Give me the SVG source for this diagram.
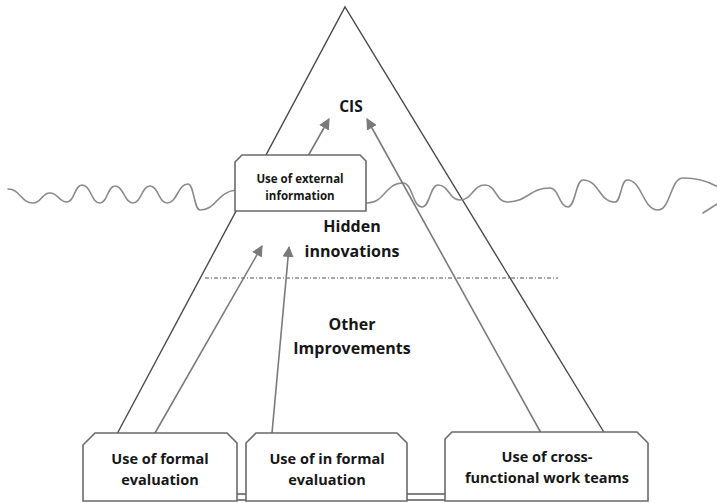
<svg xmlns="http://www.w3.org/2000/svg" width="717" height="503" viewBox="0 0 717 503">
  <style>
    .edge { fill: none; stroke: #4a4a4a; stroke-width: 1.4; }
    .arrow { fill: none; stroke: #7a7a7a; stroke-width: 1.6; marker-end: url(#head); }
    .wave { fill: none; stroke: #8a8a8a; stroke-width: 1.6; stroke-linecap: round; }
    .box { fill: #ffffff; stroke: #6a6a6a; stroke-width: 1.6; }
    .label { font-family: "Open Sans", "Liberation Sans", sans-serif; font-weight: bold; fill: #161616; text-anchor: middle; }
    .big { font-size: 16px; }
    .mid { font-size: 14.5px; }
    .small { font-size: 11.5px; }
  </style>
  <defs>
    <marker id="head" viewBox="0 0 10 10" refX="9" refY="5" markerWidth="7" markerHeight="7" orient="auto" markerUnits="strokeWidth">
      <path d="M0,0 L10,5 L0,10 z" fill="#7a7a7a"/>
    </marker>
  </defs>
  <rect width="717" height="503" fill="#ffffff"/>

  <!-- iceberg triangle -->
  <g id="triangle">
    <path class="edge" d="M117,434 L345,7 L605,434"/>
  </g>

  <!-- water line -->
  <g id="waterline">
    <path class="wave" d="M8,189 C20,189 21,203 33,203 C41.5,203 41.5,193 50,193 C58.5,193 58.5,202 67,202 C74.5,202 74.5,185 82,185 C91,185 91,203 100,203 C107.5,203 107.5,186 115,186 C124,186 124,203 133,203 C141.5,203 141.5,186 150,186 C158.5,186 158.5,203 167,203 C177.5,203 177.5,184 188,184 C194,184 194,210 200,210 C216.5,210 216.5,192 236,190"/>
    <path class="wave" d="M367,203 C385,203 385,183 403,183 C412.5,183 412.5,207 422,207 C430,207 430,185 438,185 C449,185 449,200 460,200 C472.5,200 472.5,185 485,185 C496,185 496,202 507,202 C528.5,202 528.5,188 550,188 C559,188 559,207 568,207 C575.5,207 575.5,180 583,180 C599,180 599,202 615,202 C621,202 621,180 627,180 C642.5,180 642.5,210 658,210 C670.5,210 670.5,178 683,178 C700,178 710,182 720,188"/>
    <path class="wave" d="M703,213 L720,202"/>
  </g>

  <!-- boundary between hidden innovations and other improvements -->
  <g id="divider">
    <line x1="205" y1="278" x2="558" y2="278" stroke="#8a8a8a" stroke-width="1.3" stroke-dasharray="4,2,1,2"/>
  </g>

  <!-- connectors -->
  <g id="connectors">
    <line class="arrow" x1="308" y1="156" x2="329" y2="119"/>
    <line class="arrow" x1="541" y1="433" x2="367" y2="119"/>
    <line class="arrow" x1="155" y1="433" x2="262" y2="246"/>
    <line class="arrow" x1="272" y1="433" x2="289" y2="247"/>
  </g>

  <!-- base bar joining the bottom boxes -->
  <g id="base">
    <rect x="236" y="494" width="210" height="6" fill="#ffffff" stroke="#5a5a5a" stroke-width="1.5"/>
  </g>

  <!-- level labels -->
  <g id="cis">
    <text class="label" x="351" y="112" font-size="15.5">CIS</text>
  </g>
  <g id="hidden">
    <text class="label big" x="352" y="232">Hidden</text>
    <text class="label big" x="352" y="257">innovations</text>
  </g>
  <g id="other">
    <text class="label big" x="352" y="330">Other</text>
    <text class="label big" x="352" y="354">Improvements</text>
  </g>

  <!-- practice boxes -->
  <g id="external">
    <path class="box" d="M242,155 L360,155 L366,161 L366,211 L235,211 L235,162 Z"/>
    <text class="label small" x="300" y="183">Use of external</text>
    <text class="label small" x="300" y="200">information</text>
  </g>
  <g id="formal">
    <path class="box" d="M95,433 L227,433 L237,443 L237,501 L83,501 L83,445 Z"/>
    <text class="label mid" x="160" y="464">Use of formal</text>
    <text class="label mid" x="160" y="485">evaluation</text>
  </g>
  <g id="informal">
    <path class="box" d="M256,433 L397,433 L407,443 L407,501 L246,501 L246,443 Z"/>
    <text class="label mid" x="327" y="464">Use of in formal</text>
    <text class="label mid" x="327" y="485">evaluation</text>
  </g>
  <g id="crossfunctional">
    <path class="box" d="M452,432 L637,432 L648,443 L648,501 L445,501 L445,439 Z"/>
    <text class="label mid" x="547" y="462">Use of cross-</text>
    <text class="label mid" x="547" y="483">functional work teams</text>
  </g>
</svg>
